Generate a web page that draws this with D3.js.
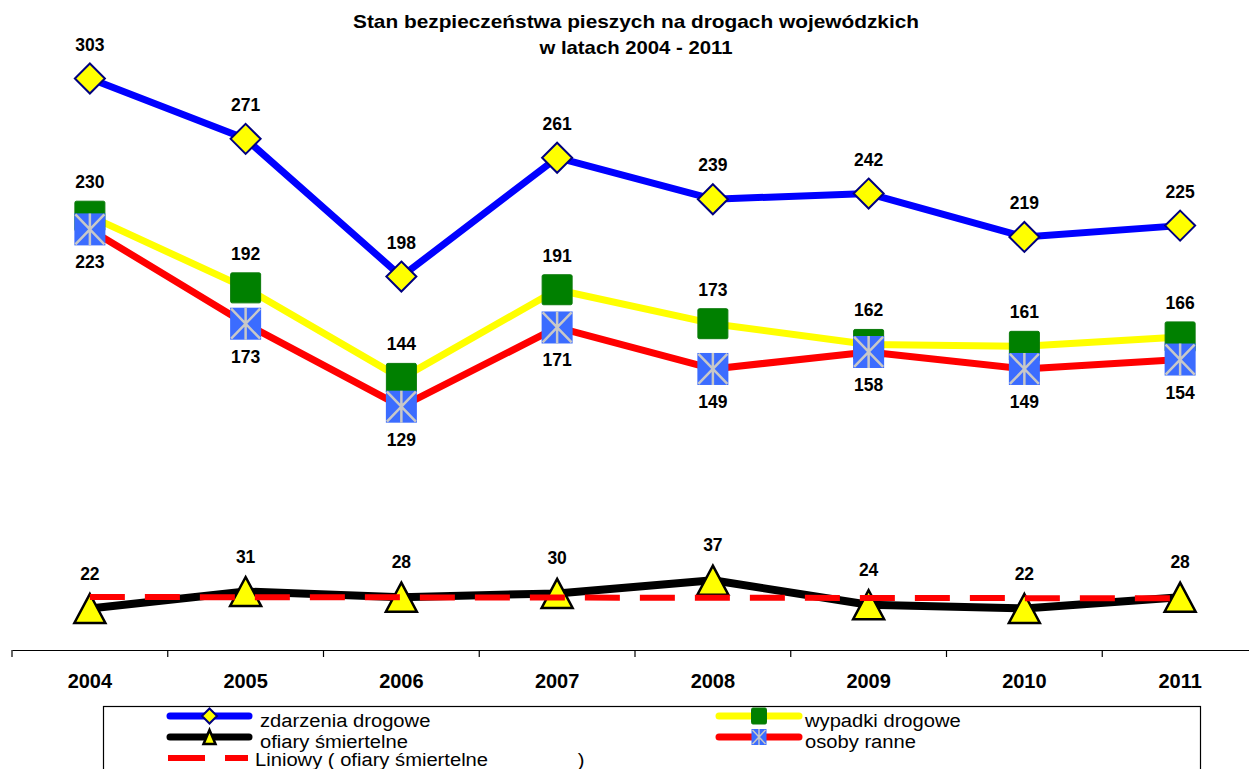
<!DOCTYPE html>
<html><head><meta charset="utf-8">
<script src="https://cdn.jsdelivr.net/npm/d3@7"></script>
<style>
body{margin:0;background:#fff;overflow:hidden}
svg{display:block;font-family:Arial,"Liberation Sans",sans-serif}
</style>
</head><body>
<svg id="c" width="1249" height="769"></svg>
<script>
const years = ["2004","2005","2006","2007","2008","2009","2010","2011"];
const zdarzenia = [303,271,198,261,239,242,219,225];
const wypadki   = [230,192,144,191,173,162,161,166];
const ofiary    = [22,31,28,30,37,24,22,28];
const ranne     = [223,173,129,171,149,158,149,154];
// linear trend of "ofiary śmiertelne", values read at 2004 and 2011
const trendYears = ["2004","2011"];
const trendOfiary = [28.1, 27.4];
const titleLines = ["Stan bezpieczeństwa pieszych na drogach wojewódzkich","w latach 2004 - 2011"];

const svg = d3.select("#c");
const x = d3.scaleBand().domain(years).range([12, 1258]);
const cx = d => x(d) + x.bandwidth()/2;
const y = d3.scaleLinear().domain([0, 303]).range([650, 78.5]);

// title
const t1 = svg.append("text").attr("x",636).attr("y",28).attr("text-anchor","middle")
  .attr("font-weight","bold").attr("font-size","18.5px").text(titleLines[0]);
t1.attr("textLength",566).attr("lengthAdjust","spacingAndGlyphs");
const t2 = svg.append("text").attr("x",636).attr("y",54).attr("text-anchor","middle")
  .attr("font-weight","bold").attr("font-size","18.5px").text(titleLines[1]);
t2.attr("textLength",193).attr("lengthAdjust","spacingAndGlyphs");

// x axis
const ax = svg.append("g").attr("transform","translate(0,650)")
  .call(d3.axisBottom(x).tickSize(0).tickSizeOuter(0).tickPadding(24));
ax.select(".domain").attr("stroke","#000").attr("stroke-width",1.2);
ax.selectAll("text").attr("font-size","20px").attr("font-weight","bold")
  .attr("font-family","Arial,'Liberation Sans',sans-serif").attr("fill","#000");
svg.append("g").selectAll("line").data(years).join("line")
  .attr("x1",d=>x(d)).attr("x2",d=>x(d)).attr("y1",650).attr("y2",657)
  .attr("stroke","#000").attr("stroke-width",1.2);

// marker painters
function diamond(g, s){
  g.append("path").attr("d",`M0,${-s}L${s},0L0,${s}L${-s},0Z`)
   .attr("fill","#ffff00").attr("stroke","#000080").attr("stroke-width",2);
}
function greenSq(g, w, h){
  g.append("rect").attr("x",-w/2).attr("y",-h/2).attr("width",w).attr("height",h)
   .attr("rx",1.5).attr("fill","#008000").attr("stroke","#0a7a0a").attr("stroke-width",1);
}
function blueX(g, w, h, sw){
  g.append("rect").attr("x",-w/2).attr("y",-h/2).attr("width",w).attr("height",h)
   .attr("fill","#3b6cff");
  g.append("path").attr("d",`M${-w/2+1},${-h/2+1}L${w/2-1},${h/2-1}M${w/2-1},${-h/2+1}L${-w/2+1},${h/2-1}M0,${-h/2}L0,${h/2}`)
   .attr("stroke","#c8c8c8").attr("stroke-width",sw).attr("fill","none");
}
function triangle(g, w, h){
  g.append("path").attr("d",`M0,${-h/2}L${w/2},${h/2}L${-w/2},${h/2}Z`)
   .attr("fill","#ffff00").attr("stroke","#000").attr("stroke-width",2.5).attr("stroke-linejoin","miter");
}

const line = d3.line().x((d,i)=>cx(years[i])).y(d=>y(d));

function series(vals, color, width, marker){
  const g = svg.append("g");
  g.append("path").datum(vals).attr("d",line).attr("fill","none")
    .attr("stroke",color).attr("stroke-width",width).attr("stroke-linejoin","round");
  g.selectAll("g.m").data(vals).join("g").attr("class","m")
    .attr("transform",(d,i)=>`translate(${cx(years[i])},${y(d)})`)
    .each(function(){ marker(d3.select(this)); });
  return g;
}
function labels(vals, dy){
  svg.append("g").selectAll("text").data(vals).join("text")
    .attr("x",(d,i)=>cx(years[i])).attr("y",d=>y(d)+dy)
    .attr("text-anchor","middle").attr("font-weight","bold").attr("font-size","17.5px")
    .text(d=>d);
}

series(zdarzenia, "#0000ff", 7, g=>diamond(g,15));
series(wypadki, "#ffff00", 7, g=>greenSq(g,30,30));
series(ofiary, "#000000", 8, g=>triangle(g,31,29));
series(ranne, "#ff0000", 7, g=>blueX(g,31,32,2.5));

// trend line
svg.append("line")
  .attr("x1",cx(trendYears[0])).attr("y1",y(trendOfiary[0]))
  .attr("x2",cx(trendYears[1])).attr("y2",y(trendOfiary[1]))
  .attr("stroke","#ff0000").attr("stroke-width",6).attr("stroke-dasharray","35,20");

// data labels
labels(zdarzenia, -28);
labels(wypadki, -28);
labels(ofiary, -29);
labels(ranne, 39);

// legend
const lg = svg.append("g");
lg.append("rect").attr("x",103.5).attr("y",706.5).attr("width",1097).attr("height",90)
  .attr("fill","#fff").attr("stroke","#000").attr("stroke-width",1.2);
const legendItems = [
  {name:"zdarzenia drogowe", color:"#0000ff", x1:167, x2:252, y:716, tx:260, mk:g=>diamond(g,7.5)},
  {name:"ofiary śmiertelne", color:"#000000", x1:167, x2:252, y:737, tx:260, mk:g=>triangle(g,12,14)},
  {name:"wypadki drogowe", color:"#ffff00", x1:716, x2:802, y:716, tx:805, mk:g=>greenSq(g,15,16)},
  {name:"osoby ranne", color:"#ff0000", x1:716, x2:802, y:737, tx:805, mk:g=>blueX(g,15,16,1.5)}
];
legendItems.forEach(it=>{
  lg.append("line").attr("x1",it.x1+3).attr("x2",it.x2-3).attr("y1",it.y).attr("y2",it.y)
    .attr("stroke",it.color).attr("stroke-width",7).attr("stroke-linecap","round");
  const m = lg.append("g").attr("transform",`translate(${(it.x1+it.x2)/2},${it.y})`);
  it.mk(m);
  const t = lg.append("text").attr("x",it.tx).attr("y",it.y+11).attr("font-size","18px").text(it.name);
  const w = t.node().getComputedTextLength();
  t.attr("textLength", w*1.12).attr("lengthAdjust","spacingAndGlyphs");
});
lg.append("line").attr("x1",168).attr("x2",248).attr("y1",758).attr("y2",758)
  .attr("stroke","#ff0000").attr("stroke-width",6).attr("stroke-dasharray","37,20");
const tt = lg.append("text").attr("x",255).attr("y",766).attr("font-size","18px")
  .style("white-space","pre").text("Liniowy ( ofiary śmiertelne                )");
tt.attr("textLength", tt.node().getComputedTextLength()*1.12).attr("lengthAdjust","spacingAndGlyphs");
</script>
</body></html>
